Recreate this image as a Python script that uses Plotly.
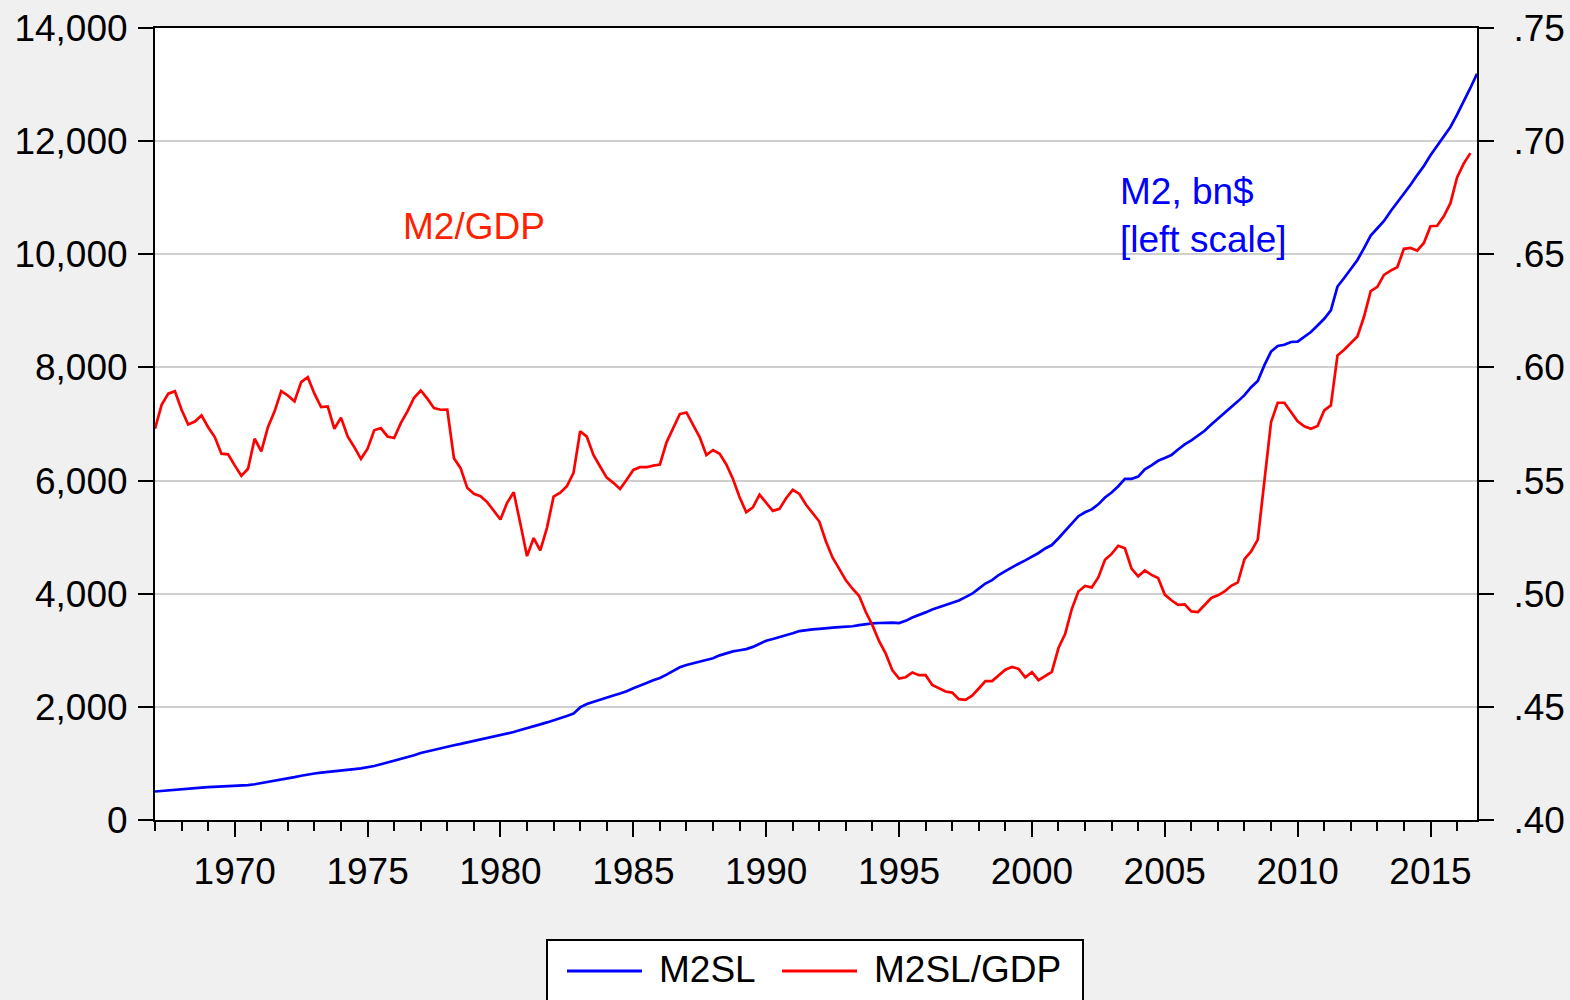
import plotly.graph_objects as go

# ---- data (quarterly, 1967Q1 onward) ----
start_year = 1967
m2sl = [
    504, 515, 528, 540, 548, 556, 565, 573, 580, 586, 590, 594,
    598, 605, 615, 632, 651, 672, 693, 712, 735, 758, 782, 806,
    822, 836, 851, 864, 875, 887, 900, 912, 930, 955, 985, 1015,
    1045, 1075, 1110, 1145, 1185, 1215, 1240, 1270, 1298, 1322, 1345, 1370,
    1395, 1420, 1450, 1475, 1498, 1520, 1555, 1590, 1620, 1650, 1690, 1725,
    1760, 1800, 1840, 1880, 1990, 2050, 2090, 2120, 2160, 2200, 2235, 2275,
    2330, 2370, 2420, 2470, 2510, 2570, 2640, 2700, 2740, 2770, 2790, 2820,
    2860, 2910, 2950, 2980, 3000, 3020, 3060, 3120, 3170, 3200, 3230, 3260,
    3300, 3340, 3360, 3370, 3380, 3395, 3400, 3410, 3415, 3425, 3445, 3465,
    3475, 3482, 3487, 3490, 3480, 3520, 3580, 3620, 3670, 3720, 3760, 3790,
    3840, 3880, 3940, 4000, 4090, 4180, 4240, 4330, 4400, 4470, 4530, 4590,
    4650, 4720, 4800, 4860, 4980, 5110, 5230, 5370, 5440, 5490, 5580, 5700,
    5790, 5900, 6030, 6030, 6070, 6200, 6270, 6350, 6400, 6450, 6550, 6640,
    6710, 6790, 6880, 6990, 7090, 7200, 7300, 7400, 7510, 7650, 7760, 8040,
    8280, 8380, 8400, 8450, 8455, 8540, 8625, 8740, 8860, 9010, 9430, 9580,
    9740, 9900, 10110, 10330, 10460, 10590, 10760, 10910, 11060, 11230, 11400, 11560,
    11750, 11910, 12080, 12250, 12470, 12700, 12940, 13190,
]
m2sl_gdp = [
    .5729, .5835, .5884, .5895, .5813, .5748, .5761, .5788, .5736, .5692,
    .5619, .5616, .5567, .5521, .5552, .5685, .5629, .5736, .5806, .5895,
    .5876, .5850, .5935, .5957, .5884, .5825, .5828, .5729, .5778, .5695,
    .5648, .5596, .5641, .5722, .5732, .5695, .5688, .5754, .5806, .5866,
    .5898, .5862, .5820, .5813, .5814, .5599, .5555, .5468, .5442, .5431,
    .5405, .5364, .5328, .5402, .5448, .5309, .5166, .5246, .5191,
    .5291, .5429, .5446, .5475, .5534, .5718, .5694, .5613, .5562, .5513,
    .5490, .5463, .5504, .5547, .5559, .5559, .5566, .5571, .5669, .5732,
    .5794, .5801, .5747, .5691, .5613, .5635, .5618, .5571, .5507, .5426,
    .5360, .5382, .5438, .5400, .5366, .5375, .5422, .5459, .5441, .5393,
    .5356, .5319, .5231, .5159, .5110, .5059, .5022, .4990, .4919, .4860,
    .4790, .4735,
    .4661, .4625, .4631, .4652, .4640, .4640, .4597, .4583, .4568, .4563,
    .4534, .4531, .4549, .4581, .4614, .4614, .4639, .4664, .4676, .4668,
    .4630, .4653, .4618, .4637, .4655, .4760, .4822, .4932, .5010, .5034,
    .5028, .5072, .5150, .5176, .5212, .5201, .5111, .5077, .5103, .5083,
    .5069, .4996, .4971, .4951, .4953, .4922, .4919, .4950, .4981, .4993,
    .5010, .5035, .5050, .5153, .5187, .5239,
    .5494, .5759, .5844, .5844, .5803, .5762, .5740, .5729, .5741, .5810,
    .5832, .6053, .6078, .6107, .6137, .6225, .6337, .6356, .6409, .6428,
    .6443, .6524, .6528, .6516, .6550, .6624, .6626, .6668, .6726, .6840,
    .6901, .6947,
]
left_ticks = [0, 2000, 4000, 6000, 8000, 10000, 12000, 14000]
left_labels = ["0", "2,000", "4,000", "6,000", "8,000", "10,000", "12,000", "14,000"]
right_ticks = [.40, .45, .50, .55, .60, .65, .70, .75]
right_labels = [".40", ".45", ".50", ".55", ".60", ".65", ".70", ".75"]
year_ticks = [1970, 1975, 1980, 1985, 1990, 1995, 2000, 2005, 2010, 2015]
series_names = ["M2SL", "M2SL/GDP"]

x_m2 = [start_year + i / 4 for i in range(len(m2sl))]
x_ratio = [start_year + i / 4 for i in range(len(m2sl_gdp))]

FONT = "Liberation Sans, Arial, sans-serif"
FS = 37
BLUE = "#0000ff"
RED = "#ff0000"

fig = go.Figure()
fig.add_trace(go.Scatter(x=x_m2, y=m2sl, mode="lines", name=series_names[0],
                         line=dict(color=BLUE, width=2.7), yaxis="y"))
fig.add_trace(go.Scatter(x=x_ratio, y=m2sl_gdp, mode="lines", name=series_names[1],
                         line=dict(color=RED, width=2.7), yaxis="y2"))

W, H = 1570, 1000
L, R, T, B = 155, 1477, 28, 820
pw, ph = R - L, B - T


def px(xp):
    return (xp - L) / pw


def py(yp):
    return (B - yp) / ph


fig.update_layout(
    width=W, height=H,
    margin=dict(l=L, r=W - R, t=T, b=H - B, pad=0, autoexpand=False),
    paper_bgcolor="#f0f0f0", plot_bgcolor="white",
    showlegend=False,
    font=dict(family=FONT, size=FS, color="black"),
    xaxis=dict(
        automargin=False,
        range=[start_year, start_year + (len(m2sl) - 1) / 4],
        tickmode="array", tickvals=year_ticks,
        ticks="outside", ticklen=15, tickwidth=1.5, tickcolor="black",
        minor=dict(dtick=1, tick0=1967, ticks="outside", ticklen=9,
                   tickwidth=1.5, tickcolor="black", showgrid=False),
        showline=True, linecolor="black", linewidth=2, mirror=True,
        showgrid=False, zeroline=False,
        tickfont=dict(size=FS, family=FONT), ticklabelstandoff=3,
    ),
    yaxis=dict(
        automargin=False,
        range=[0, 14000], tickmode="array", tickvals=left_ticks, ticktext=left_labels,
        ticks="outside", ticklen=15, tickwidth=1.5, tickcolor="black",
        showline=True, linecolor="black", linewidth=2, mirror=True,
        showgrid=True, gridcolor="#cfcfcf", gridwidth=2, zeroline=False,
        tickfont=dict(size=FS, family=FONT), ticklabelstandoff=3,
    ),
    yaxis2=dict(
        automargin=False,
        range=[.40, .75], overlaying="y", side="right",
        tickmode="array", tickvals=right_ticks, ticktext=right_labels,
        ticks="outside", ticklen=15, tickwidth=1.5, tickcolor="black",
        showline=True, linecolor="black", linewidth=2,
        showgrid=False, zeroline=False,
        tickfont=dict(size=FS, family=FONT), ticklabelstandoff=12,
    ),
)

# in-plot labels
fig.add_annotation(xref="paper", yref="paper", x=px(401), y=py(226),
                   xanchor="left", yanchor="middle", showarrow=False,
                   text="M2/GDP", font=dict(size=FS, color="#ff2200", family=FONT))
fig.add_annotation(xref="paper", yref="paper", x=px(1118), y=py(216),
                   xanchor="left", yanchor="middle", showarrow=False, align="left",
                   text="M2, bn$<br>[left scale]", font=dict(size=FS, color=BLUE, family=FONT))

# legend box (drawn manually to match the reference layout)
fig.add_shape(type="rect", xref="paper", yref="paper",
              x0=px(547), x1=px(1083), y0=py(940), y1=py(1012),
              line=dict(color="black", width=2), fillcolor="white", layer="above")
fig.add_shape(type="line", xref="paper", yref="paper",
              x0=px(567), x1=px(642), y0=py(971), y1=py(971),
              line=dict(color=BLUE, width=3))
fig.add_shape(type="line", xref="paper", yref="paper",
              x0=px(782), x1=px(857), y0=py(971), y1=py(971),
              line=dict(color=RED, width=3))
fig.add_annotation(xref="paper", yref="paper", x=px(657), y=py(969),
                   xanchor="left", yanchor="middle", showarrow=False,
                   text=series_names[0], font=dict(size=FS, color="black", family=FONT))
fig.add_annotation(xref="paper", yref="paper", x=px(872), y=py(969),
                   xanchor="left", yanchor="middle", showarrow=False,
                   text=series_names[1], font=dict(size=FS, color="black", family=FONT))

fig.write_html(
    "out.html",
    config={"displayModeBar": False},
    post_script="document.body.style.margin='0';document.body.style.padding='0';"
                "document.body.style.overflow='hidden';"
                "document.body.style.background='#f0f0f0';",
)
